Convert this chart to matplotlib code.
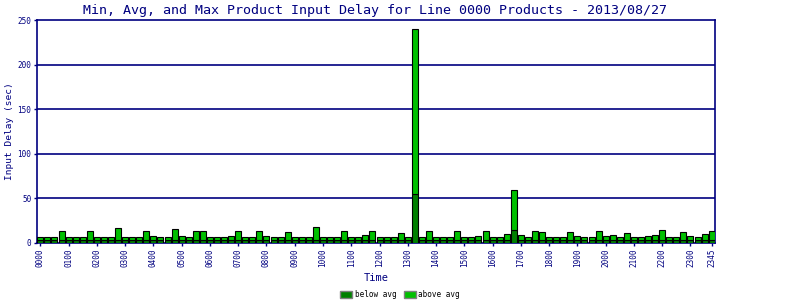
import numpy as np
import matplotlib
matplotlib.use("Agg")
import matplotlib.pyplot as plt
from matplotlib.patches import Patch

# 96 fifteen-minute slots, 0000 .. 2345
times = [f"{h:02d}{m:02d}" for h in range(24) for m in (0, 15, 30, 45)]

# total bar height (max delay) per slot, sec
total = [6.5, 6.5, 6.5, 13.5, 6.5, 6.5, 6.5, 13.5, 6.5, 6.5, 6.5, 16.5,
         6.5, 6.5, 6.5, 13.5, 8, 6.5, 6.5, 15.5, 8, 6.5, 13.5, 13.5,
         6.5, 6.5, 6.5, 7.5, 13.5, 6.5, 6.5, 13.5, 8, 6.5, 6.5, 12,
         6.5, 6.5, 6.5, 18.5, 6.5, 6.5, 6.5, 13.5, 6.5, 6.5, 9, 13.5,
         6.5, 6.5, 6.5, 11, 6.5, 240, 6.5, 13.5, 6.5, 6.5, 6.5, 13.5,
         6.5, 6.5, 8, 13.5, 6.5, 6.5, 10, 60, 9, 6.5, 13.5, 12,
         6.5, 6.5, 6.5, 12, 8, 6.5, 6.5, 13.5, 8, 8.5, 6.5, 11,
         6.5, 6.5, 8, 8.5, 14.5, 6.5, 6.5, 12, 8, 6.5, 10, 13.5]

# below-average portion (dark green)
below = [3.0] * 96
below[11] = 3.5
below[19] = 3.5
below[39] = 3.5
below[53] = 55
below[67] = 15

above = [t - b for t, b in zip(total, below)]

navy = "#000080"
mono = "DejaVu Sans Mono"
dark_green = "#008000"
light_green = "#00c000"

fig = plt.figure(figsize=(8, 3), dpi=100)
ax = fig.add_axes([0.046, 0.19, 0.848, 0.743])

x = np.arange(len(times))
ax.bar(x, below, width=0.84, color=dark_green, edgecolor="black", linewidth=0.8, zorder=3)
ax.bar(x, above, width=0.84, bottom=below, color=light_green, edgecolor="black", linewidth=0.8, zorder=3)

ax.set_xlim(-0.5, len(times) - 0.5)
ax.set_ylim(0, 250)
ax.set_yticks([0, 50, 100, 150, 200, 250])
for yv in [50, 100, 150, 200]:
    ax.axhline(yv, color=navy, linewidth=1.2, zorder=1)

tick_pos = list(range(0, 96, 4)) + [95]
ax.set_xticks(tick_pos)
ax.set_xticklabels([times[i] for i in tick_pos], rotation=90, fontsize=5.5,
                   family=mono, color=navy)
for lab in ax.get_yticklabels():
    lab.set_fontsize(5.5)
    lab.set_family(mono)
    lab.set_color(navy)
ax.tick_params(axis="both", colors=navy, length=2, width=1, pad=2)

for s in ax.spines.values():
    s.set_color(navy)
    s.set_linewidth(1.2)

ax.set_xlabel("Time", fontsize=7.5, family=mono, color=navy, labelpad=4)
ax.set_ylabel("Input Delay (sec)", fontsize=6.8, family=mono, color=navy)
ax.yaxis.set_label_coords(-0.034, 0.5)
fig.text(0.469, 0.965, "Min, Avg, and Max Product Input Delay for Line 0000 Products - 2013/08/27",
         ha="center", va="center", fontsize=9.6, family=mono, color=navy)

handles = [Patch(facecolor=dark_green, edgecolor="gray", label="below avg"),
           Patch(facecolor=light_green, edgecolor="gray", label="above avg")]
leg = fig.legend(handles=handles, loc="lower center", bbox_to_anchor=(0.5, -0.02), ncol=2,
                 frameon=False, prop={"family": mono, "size": 5.5},
                 handlelength=1.6, handleheight=1.1, handletextpad=0.3, columnspacing=1.0)

fig.savefig("out.png", dpi=100)
